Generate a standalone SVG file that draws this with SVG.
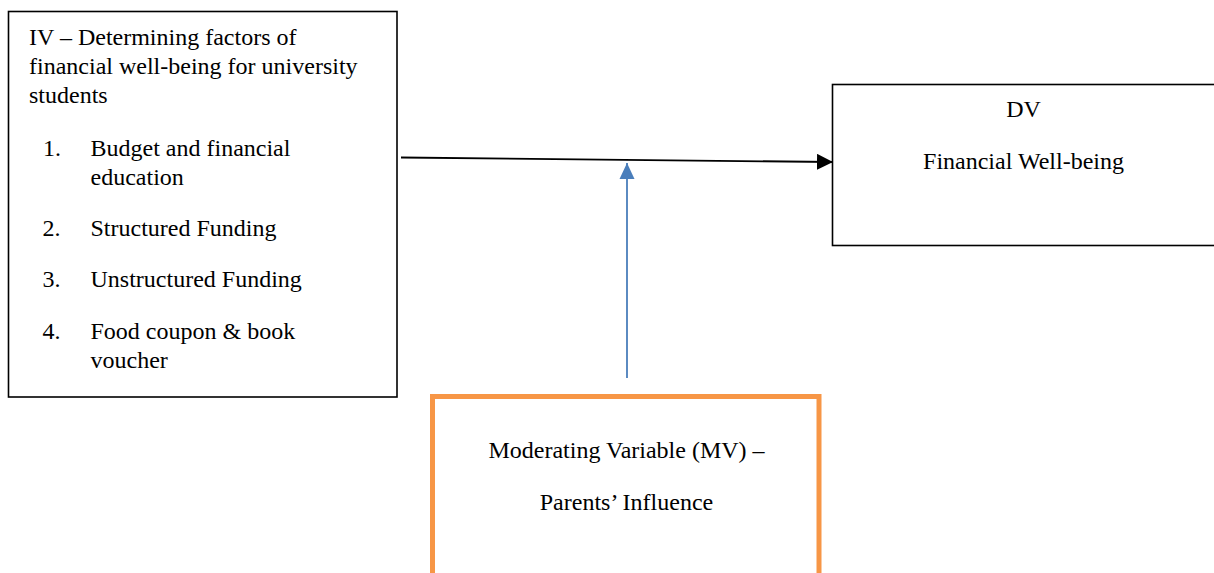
<svg xmlns="http://www.w3.org/2000/svg" width="1214" height="573" viewBox="0 0 1214 573">
<style>
text { font-family: "Liberation Serif", "Times New Roman", serif; font-size: 24px; fill: #000; }
.box { fill: #fff; stroke: #000; stroke-width: 1.6; }
.mv { fill: #fff; stroke: #F79646; stroke-width: 5; }
.c { text-anchor: middle; }
</style>
<defs>
<marker id="ab" markerUnits="userSpaceOnUse" markerWidth="16" markerHeight="16" viewBox="0 0 16 16" refX="16" refY="8" orient="auto"><path d="M0,0 L16,8 L0,16 Z" fill="#000"/></marker>
<marker id="au" markerUnits="userSpaceOnUse" markerWidth="16" markerHeight="16" viewBox="0 0 16 16" refX="16" refY="8" orient="auto"><path d="M0,0.5 L16,8 L0,15.5 Z" fill="#4A7EBB"/></marker>
</defs>
<g id="iv">
<rect class="box" x="8.5" y="11.5" width="388.5" height="385.5"/>
<text x="29" y="45">IV – Determining factors of</text>
<text x="29" y="74">financial well-being for university</text>
<text x="29" y="103">students</text>
<text x="43" y="156">1.</text>
<text x="90.5" y="156">Budget and financial</text>
<text x="90.5" y="184.5">education</text>
<text x="42.5" y="236">2.</text>
<text x="90.5" y="236">Structured Funding</text>
<text x="42.5" y="287">3.</text>
<text x="90.5" y="287">Unstructured Funding</text>
<text x="42.5" y="339">4.</text>
<text x="90.5" y="339">Food coupon &amp; book</text>
<text x="90.5" y="368">voucher</text>
</g>
<g id="dv">
<rect class="box" x="832.5" y="84.5" width="400" height="161"/>
<text class="c" x="1023.5" y="117">DV</text>
<text class="c" x="1023.5" y="169">Financial Well-being</text>
</g>
<g id="mv">
<rect class="mv" x="432.5" y="396.5" width="386.5" height="200"/>
<text class="c" x="626.5" y="457.5">Moderating Variable (MV) –</text>
<text class="c" x="626.5" y="510">Parents’ Influence</text>
</g>
<g id="connectors">
<line x1="401" y1="157.5" x2="833" y2="162" stroke="#000" stroke-width="1.8" marker-end="url(#ab)"/>
<line x1="627" y1="378" x2="627" y2="163" stroke="#4A7EBB" stroke-width="1.8" marker-end="url(#au)"/>
</g>
</svg>
